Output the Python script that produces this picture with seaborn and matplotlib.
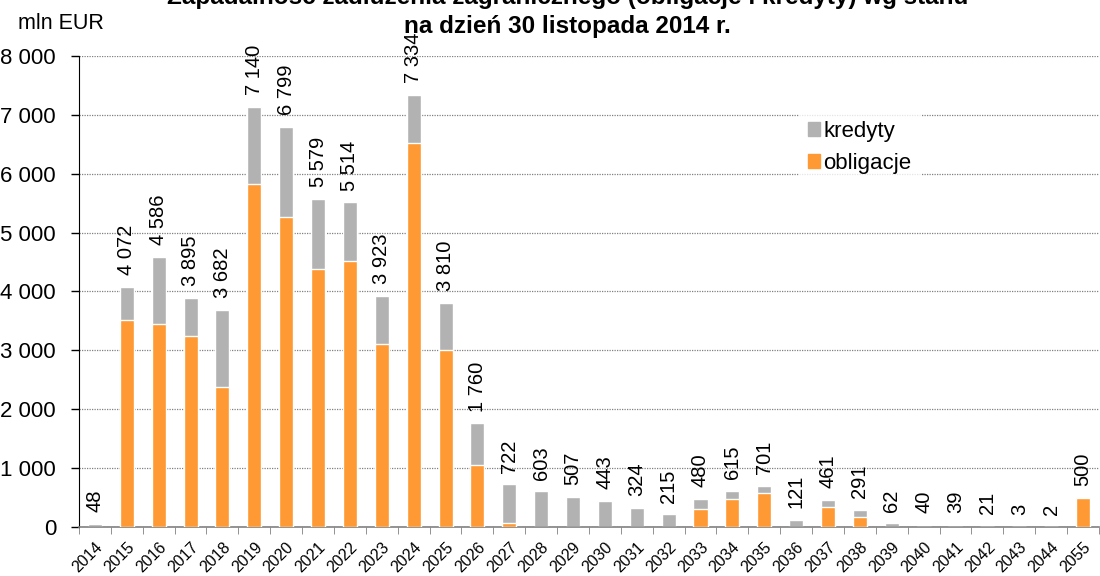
import numpy as np
import pandas as pd
import matplotlib
matplotlib.use('Agg')
import matplotlib.pyplot as plt
import seaborn as sns
from matplotlib.ticker import FuncFormatter

# Data: maturity of foreign debt, mln EUR
years = ['2014', '2015', '2016', '2017', '2018', '2019', '2020', '2021', '2022', '2023',
         '2024', '2025', '2026', '2027', '2028', '2029', '2030', '2031', '2032', '2033',
         '2034', '2035', '2036', '2037', '2038', '2039', '2040', '2041', '2042', '2043',
         '2044', '2055']
totals = [48, 4072, 4586, 3895, 3682, 7140, 6799, 5579, 5514, 3923,
          7334, 3810, 1760, 722, 603, 507, 443, 324, 215, 480,
          615, 701, 121, 461, 291, 62, 40, 39, 21, 3,
          2, 500]
obligacje = [0, 3520, 3455, 3250, 2380, 5830, 5260, 4375, 4510, 3115,
             6530, 3010, 1055, 65, 0, 0, 0, 0, 0, 305,
             470, 585, 0, 340, 170, 0, 0, 0, 0, 0,
             0, 500]
kredyty = [t - o for t, o in zip(totals, obligacje)]

df = pd.DataFrame({'rok': years, 'razem': totals, 'obligacje': obligacje, 'kredyty': kredyty})

sns.set_style('white')
plt.rcParams['font.family'] = ['Liberation Sans', 'DejaVu Sans']
plt.rcParams['text.color'] = 'black'
plt.rcParams['xtick.color'] = 'black'
plt.rcParams['ytick.color'] = 'black'
plt.rcParams['xtick.labelcolor'] = 'black'
plt.rcParams['ytick.labelcolor'] = 'black'

grey = '#b2b2b2'
orange = '#ff9933'

fig, ax = plt.subplots(figsize=(11, 5.76), dpi=100)
fig.subplots_adjust(left=0.0718, right=0.999, top=0.9028, bottom=0.0851)

# stacked: grey (total) drawn first, orange over it
sns.barplot(data=df, x='rok', y='razem', color=grey, width=0.44, ax=ax,
            saturation=1, zorder=2)
sns.barplot(data=df, x='rok', y='obligacje', color=orange, width=0.44, ax=ax,
            saturation=1, zorder=3)

def fmt(v):
    return f'{int(v):,}'.replace(',', ' ')

for i, t in enumerate(totals):
    ax.text(i, t + 200, fmt(t), rotation=90, ha='center', va='bottom', fontsize=14.5)

ax.set_ylim(0, 8000)
ax.set_xlim(-0.5, len(years) - 0.5)
ax.set_yticks(range(0, 8001, 1000))
ax.yaxis.set_major_formatter(FuncFormatter(lambda v, p: fmt(v)))
ax.tick_params(axis='y', labelsize=16, length=6, width=1, direction='out', left=True, pad=10.5)
ax.set_xticks(np.arange(len(years)))
ax.set_xticklabels(years, rotation=45, ha='right', rotation_mode='anchor', fontsize=11.5)
ax.tick_params(axis='x', length=0, pad=9)
# tick marks between categories
ax.set_xticks(np.arange(-0.5, len(years), 1), minor=True)
ax.tick_params(axis='x', which='minor', length=5, color='#808080', bottom=True)

ax.grid(axis='y', color='#808080', linestyle=(0, (1, 1)), linewidth=0.9, zorder=0)
ax.set_axisbelow(True)
for s in ['top', 'right']:
    ax.spines[s].set_visible(False)
ax.spines['left'].set_color('black')
ax.spines['bottom'].set_color('#808080')
ax.spines['bottom'].set_linewidth(1.2)
ax.set_xlabel('')
ax.set_ylabel('')

handles = [plt.Rectangle((0, 0), 1, 1, color=grey), plt.Rectangle((0, 0), 1, 1, color=orange)]
ax.legend(handles, ['kredyty', 'obligacje'], loc='upper left', bbox_to_anchor=(0.695, 0.905),
          frameon=True, facecolor='white', edgecolor='white', fontsize=16, handlelength=0.55,
          handleheight=0.55, handletextpad=0.15, labelspacing=0.5, borderpad=0.4)

fig.text(0.0164, 0.9497, 'mln EUR', fontsize=15.5, va='baseline')
fig.text(0.516, 0.993, 'Zapadalność zadłużenia zagranicznego (obligacje i kredyty) wg stanu',
         ha='center', va='baseline', fontsize=17.5, fontweight='bold')
fig.text(0.516, 0.943, 'na dzień 30 listopada 2014 r.',
         ha='center', va='baseline', fontsize=17.5, fontweight='bold')

fig.savefig('out.png', dpi=100)
